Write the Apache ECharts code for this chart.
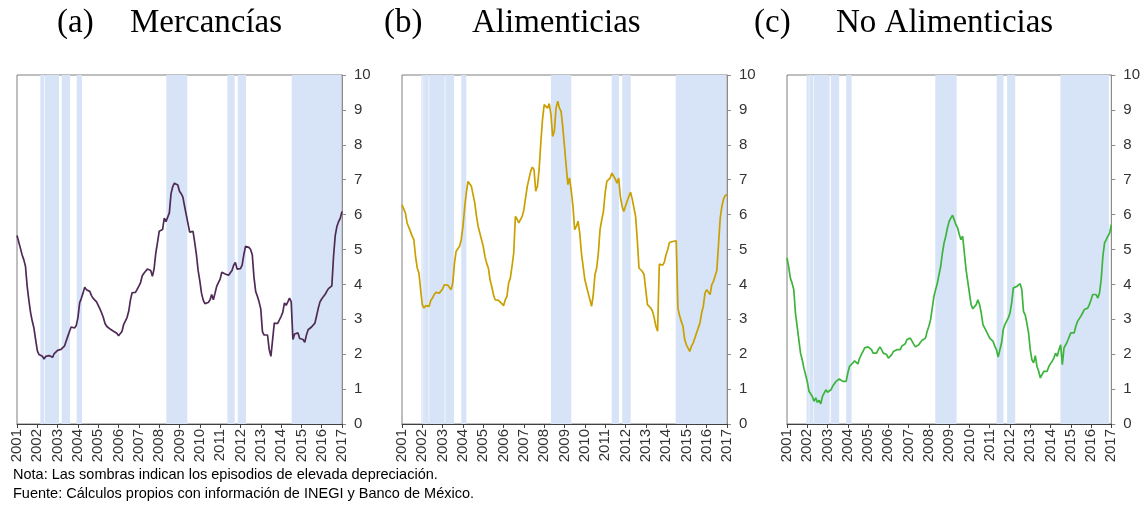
<!DOCTYPE html>
<html>
<head>
<meta charset="utf-8">
<script src="https://cdn.jsdelivr.net/npm/echarts@6/dist/echarts.min.js"></script>
<style>
html,body{margin:0;padding:0;background:#fff;}
#chart{width:1143px;height:506px;}
</style>
</head>
<body>
<div id="chart"></div>
<script>
// Tick labels (years) on the x axis
const yearTicks = [2001,2002,2003,2004,2005,2006,2007,2008,2009,2010,2011,2012,2013,2014,2015,2016,2017];
const startYear = 2001; // monthly series start in January 2001

// Panel titles
const panelLetters = ['(a)', '(b)', '(c)'];
const panelNames = ['Mercancías', 'Alimenticias', 'No Alimenticias'];

// Monthly values (Jan 2001 .. Jan 2017), one row per year
const valuesA = [
  5.40,5.45,5.04,4.85,4.71,4.52,3.95,3.55,3.20,2.95,2.75,2.42,
  2.10,1.99,1.99,1.94,1.86,1.94,1.92,1.96,1.93,1.91,2.02,1.98,
  2.11,2.13,2.14,2.17,2.23,2.27,2.51,2.65,2.78,2.80,2.75,2.82,
  3.05,3.47,3.60,3.75,3.92,3.85,3.82,3.80,3.68,3.60,3.56,3.50,
  3.45,3.30,3.18,3.05,2.88,2.80,2.75,2.72,2.68,2.66,2.67,2.60,
  2.53,2.55,2.65,2.85,2.95,3.05,3.23,3.55,3.76,3.78,3.77,3.80,
  3.95,4.05,4.25,4.32,4.37,4.44,4.42,4.40,4.23,4.45,4.90,5.20,
  5.52,5.55,5.57,5.90,5.80,5.76,6.05,6.60,6.80,6.90,6.95,6.85,
  6.67,6.60,6.50,6.24,6.28,5.75,5.50,5.47,5.52,5.20,4.85,4.40,
  4.10,3.75,3.55,3.45,3.42,3.48,3.55,3.71,3.56,3.75,3.95,4.05,
  4.15,4.35,4.33,4.30,4.28,4.26,4.23,4.40,4.55,4.63,4.44,4.42,
  4.45,4.55,4.85,5.09,5.09,5.06,5.00,4.85,4.20,3.80,3.66,3.50,
  3.30,2.65,2.55,2.50,2.55,2.13,1.94,1.89,2.89,2.85,2.88,2.98,
  3.08,3.20,3.47,3.40,3.50,3.61,3.50,2.42,2.58,2.55,2.61,2.45,
  2.42,2.42,2.34,2.55,2.70,2.75,2.78,2.80,2.89,3.10,3.32,3.50,
  3.58,3.65,3.71,3.80,3.88,3.85,3.96,4.80,5.40,5.66,5.80,5.90,
  6.09
];
const valuesB = [
  6.28,6.24,6.05,5.76,5.78,5.52,5.38,5.28,4.80,4.47,4.33,3.85,
  3.42,3.32,3.39,3.35,3.37,3.54,3.61,3.71,3.77,3.77,3.75,3.77,
  3.87,3.99,4.01,3.98,3.94,3.85,4.04,4.61,4.95,5.00,5.09,5.28,
  5.66,6.19,6.62,6.95,6.90,6.81,6.78,6.33,5.95,5.66,5.47,5.28,
  5.09,4.80,4.61,4.47,4.14,3.94,3.71,3.56,3.56,3.54,3.51,3.45,
  3.39,3.56,3.66,4.04,4.18,4.52,4.90,5.95,5.87,5.76,5.81,5.95,
  6.14,6.48,6.81,6.79,7.24,7.36,7.29,6.67,6.81,7.29,8.05,8.72,
  9.15,9.10,9.05,9.18,8.86,8.24,8.39,9.05,9.25,9.05,8.96,8.50,
  7.95,7.38,6.86,7.05,6.67,6.24,5.57,5.66,5.81,5.47,4.90,4.52,
  4.14,3.94,3.75,3.56,3.37,3.71,4.28,4.47,4.90,5.57,5.85,6.09,
  6.62,6.95,6.90,7.05,7.19,7.14,7.02,6.90,7.05,6.52,6.24,6.09,
  6.24,6.38,6.52,6.64,6.45,6.43,5.95,5.28,4.47,4.47,4.37,4.28,
  3.85,3.42,3.39,3.32,3.23,3.04,2.80,2.66,4.58,4.55,4.55,4.64,
  4.85,5.00,5.20,5.22,5.23,5.21,5.25,3.32,3.10,2.94,2.80,2.42,
  2.27,2.23,2.08,2.23,2.32,2.46,2.61,2.56,2.89,3.18,3.37,3.75,
  3.85,3.82,3.71,3.99,4.09,4.14,4.40,5.15,5.90,6.24,6.45,6.55,
  6.57
];
const valuesC = [
  4.76,4.50,4.18,4.04,3.85,3.18,2.80,2.42,2.03,1.84,1.60,1.41,
  1.22,0.94,0.89,0.79,0.65,0.75,0.62,0.68,0.58,0.79,0.84,0.98,
  0.91,0.89,0.98,1.08,1.13,1.22,1.27,1.29,1.27,1.22,1.20,1.22,
  1.46,1.65,1.67,1.75,1.81,1.80,1.72,1.89,1.99,2.08,2.18,2.21,
  2.21,2.21,2.13,2.03,1.99,2.03,2.13,2.21,2.13,2.03,2.08,1.99,
  1.89,1.89,1.99,2.08,2.08,2.13,2.15,2.13,2.23,2.27,2.30,2.42,
  2.44,2.46,2.42,2.29,2.21,2.23,2.27,2.34,2.40,2.42,2.46,2.66,
  2.80,2.99,3.32,3.66,3.85,4.04,4.09,4.52,4.90,5.19,5.38,5.62,
  5.81,5.90,5.98,5.85,5.71,5.62,5.43,5.28,5.38,4.90,4.42,4.09,
  3.75,3.42,3.30,3.35,3.42,3.56,3.42,3.18,2.85,2.80,2.66,2.56,
  2.46,2.42,2.37,2.23,2.13,1.92,1.94,2.32,2.70,2.85,2.89,3.04,
  3.18,3.47,3.90,3.90,3.94,3.99,4.02,3.85,3.23,3.13,2.89,2.61,
  2.13,1.84,1.75,1.96,1.65,1.51,1.32,1.27,1.51,1.46,1.51,1.65,
  1.73,1.80,1.89,2.03,1.94,2.13,2.27,1.70,2.18,2.27,2.37,2.42,
  2.61,2.56,2.61,2.80,2.94,2.89,3.09,3.18,3.28,3.32,3.32,3.42,
  3.56,3.71,3.74,3.71,3.61,3.75,4.14,4.80,5.19,5.28,5.38,5.47,
  5.71
];

// High-depreciation episodes (shaded), in months since January 2001: [start, end]
const shadeA = [[13.8,16.0],[16.35,24.8],[26.4,31.3],[35.25,38.4],[88.2,100.6],[124.3,128.6],[130.4,135.3],[162.3,191.6]];
const shadeB = [[11.4,12.1],[12.3,12.9],[13.1,15.75],[16.1,25.2],[25.6,30.7],[35.0,38.0],[88.0,100.0],[123.9,128.2],[130.1,135.1],[161.7,191.6]];
const shadeC = [[11.6,12.9],[13.2,15.5],[15.8,25.2],[25.9,30.9],[35.05,38.2],[87.8,100.4],[124.1,128.2],[130.3,135.1],[161.9,190.6]];

// Footnotes
const noteLines = [
  'Nota: Las sombras indican los episodios de elevada depreciación.',
  'Fuente: Cálculos propios con información de INEGI y Banco de México.'
];

// ---------------------------------------------------------------
const seriesValues = [valuesA, valuesB, valuesC];
const shades = [shadeA, shadeB, shadeC];
const lineColors = ['#4e2a55', '#c9a000', '#3cb43c'];
const gridLefts = [17, 402, 787];
const letterLefts = [57, 384, 754];
const nameLefts = [130, 472, 836];
const shadeColor = '#d7e3f6';

const toYear = m => startYear + m / 12;

const grids = [], xAxes = [], yAxes = [], series = [], titles = [];
for (let i = 0; i < 3; i++) {
  grids.push({left: gridLefts[i], top: 75, width: 325, height: 349,
    show: true, borderColor: '#7f7f7f', borderWidth: 1, backgroundColor: 'transparent'});
  xAxes.push({
    type: 'value', gridIndex: i, min: yearTicks[0], max: yearTicks[yearTicks.length - 1], interval: 1,
    axisLine: {show: true, lineStyle: {color: '#404040', width: 1}},
    axisTick: {show: true, length: 4, lineStyle: {color: '#404040'}},
    axisLabel: {rotate: 90, margin: 5, fontSize: 15, color: '#333',
      fontFamily: 'Liberation Sans', formatter: v => String(Math.round(v))},
    splitLine: {show: false}
  });
  yAxes.push({
    type: 'value', gridIndex: i, position: 'right', min: 0, max: 10, interval: 1,
    axisLine: {show: true, lineStyle: {color: '#8c8c8c', width: 1}},
    axisTick: {show: true, length: 4, lineStyle: {color: '#8c8c8c'}},
    axisLabel: {margin: 12, fontSize: 15, color: '#333', fontFamily: 'Liberation Sans'},
    splitLine: {show: false}
  });
  series.push({
    type: 'line', xAxisIndex: i, yAxisIndex: i, showSymbol: false, silent: true,
    data: seriesValues[i].map((v, m) => [toYear(m), v]),
    lineStyle: {color: lineColors[i], width: 1.7}, itemStyle: {color: lineColors[i]},
    z: 3,
    markArea: {silent: true, itemStyle: {color: shadeColor},
      data: shades[i].map(p => [{xAxis: toYear(p[0])}, {xAxis: toYear(p[1])}])}
  });
  const tStyle = {fontFamily: 'Liberation Serif', fontSize: 33, fontWeight: 'normal', color: '#000'};
  titles.push({text: panelLetters[i], left: letterLefts[i], top: 7, padding: 0, textStyle: tStyle});
  titles.push({text: panelNames[i], left: nameLefts[i], top: 7, padding: 0, textStyle: tStyle});
}

const chart = echarts.init(document.getElementById('chart'), null, {renderer: 'canvas'});
chart.setOption({
  animation: false,
  backgroundColor: '#fff',
  title: titles,
  grid: grids,
  xAxis: xAxes,
  yAxis: yAxes,
  series: series,
  graphic: noteLines.map((t, k) => ({
    type: 'text', left: 13, top: 467 + k * 19,
    style: {text: t, font: '14.5px "Liberation Sans"', fill: '#000'}
  }))
});
</script>
</body>
</html>
